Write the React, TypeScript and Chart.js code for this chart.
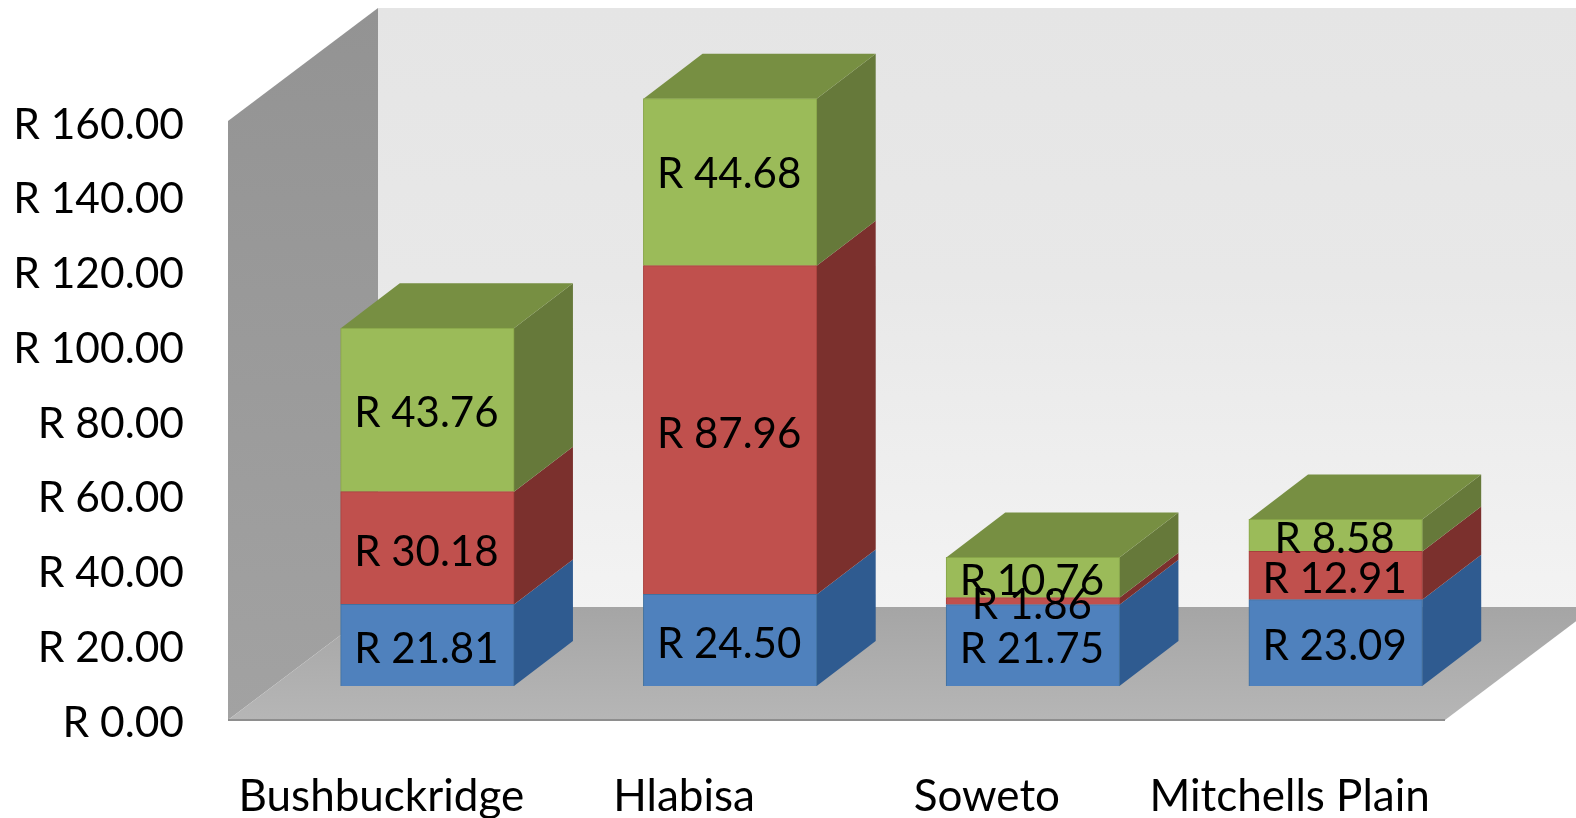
import React, { useEffect, useRef } from "react";
import { Chart, registerables } from "chart.js";

Chart.register(...registerables);

const categories = ["Bushbuckridge", "Hlabisa", "Soweto", "Mitchells Plain"];
const blueValues = [21.81, 24.5, 21.75, 23.09];
const redValues = [30.18, 87.96, 1.86, 12.91];
const greenValues = [43.76, 44.68, 10.76, 8.58];

const FONT = "Lato";
const Y_FONT_SIZE = 42.5;
const X_FONT_SIZE = 44;
const LABEL_FONT_SIZE = 42;
const SHIFT_X = 46;
const SHIFT_Y = -37;
const DEPTH_X = 59;
const DEPTH_Y = -45;
const WALL_X = 150;
const WALL_Y = -113;

const faces = [
  { front: "#4f81bd", border: "#41719f", side: "#2f5b90", top: "#3d6da8" },
  { front: "#c0504d", border: "#a8403d", side: "#7b302d", top: "#93403c" },
  { front: "#9bbb59", border: "#87a548", side: "#66793a", top: "#778f42" },
];

const poly = (ctx: CanvasRenderingContext2D, pts: number[][], fill: string | CanvasGradient) => {
  ctx.beginPath();
  pts.forEach(([x, y], i) => (i ? ctx.lineTo(x, y) : ctx.moveTo(x, y)));
  ctx.closePath();
  ctx.fillStyle = fill;
  ctx.fill();
};

const bars3d = {
  id: "bars3d",
  beforeDatasetsDraw(chart: any) {
    const { ctx, chartArea: a, width } = chart;
    const L = a.left - 2;
    const B = a.bottom - 3;
    const T = a.top - 4;
    const R = a.right + 4;
    ctx.save();
    const wall = ctx.createLinearGradient(0, T + WALL_Y, 0, B + WALL_Y);
    wall.addColorStop(0, "#e5e5e5");
    wall.addColorStop(0.45, "#e8e8e8");
    wall.addColorStop(1, "#f3f3f3");
    poly(ctx, [[L + WALL_X, T + WALL_Y], [width, T + WALL_Y], [width, B + WALL_Y], [L + WALL_X, B + WALL_Y]], wall);
    const side = ctx.createLinearGradient(0, T + WALL_Y, 0, B);
    side.addColorStop(0, "#939393");
    side.addColorStop(1, "#a2a2a2");
    poly(ctx, [[L, T], [L + WALL_X, T + WALL_Y], [L + WALL_X, B + WALL_Y], [L, B]], side);
    const floor = ctx.createLinearGradient(0, B + WALL_Y, 0, B);
    floor.addColorStop(0, "#a5a5a5");
    floor.addColorStop(1, "#b6b6b6");
    poly(ctx, [[L, B], [L + WALL_X, B + WALL_Y], [R + WALL_X, B + WALL_Y], [R, B]], floor);
    ctx.strokeStyle = "#8e8e8e";
    ctx.lineWidth = 2;
    ctx.beginPath();
    ctx.moveTo(L, B);
    ctx.lineTo(R, B);
    ctx.stroke();
    ctx.restore();

    ctx.save();
    ctx.translate(SHIFT_X, SHIFT_Y);
    chart.data.datasets.forEach((_: any, d: number) => {
      chart.getDatasetMeta(d).data.forEach((bar: any) => {
        const right = bar.x + bar.width / 2;
        const left = bar.x - bar.width / 2;
        poly(ctx, [[right, bar.base], [right + DEPTH_X, bar.base + DEPTH_Y], [right + DEPTH_X, bar.y + DEPTH_Y], [right, bar.y]], faces[d].side);
        if (d === chart.data.datasets.length - 1) {
          poly(ctx, [[left, bar.y], [left + DEPTH_X, bar.y + DEPTH_Y], [right + DEPTH_X, bar.y + DEPTH_Y], [right, bar.y]], faces[d].top);
        }
      });
    });
  },
  afterDatasetsDraw(chart: any) {
    const { ctx } = chart;
    ctx.fillStyle = "#000000";
    ctx.font = `${LABEL_FONT_SIZE}px ${FONT}`;
    ctx.textAlign = "center";
    ctx.textBaseline = "middle";
    chart.data.datasets.forEach((ds: any, d: number) => {
      chart.getDatasetMeta(d).data.forEach((bar: any, i: number) => {
        // the top Hlabisa label sits above the middle of its segment in the reference
        const nudge = d === 2 && i === 1 ? -12 : 0;
        ctx.fillText(`R ${ds.data[i].toFixed(2)}`, bar.x - 1, (bar.y + bar.base) / 2 + 4 + nudge);
      });
    });
    ctx.restore();
  },
};

export default function App() {
  const ref = useRef<HTMLCanvasElement>(null);
  useEffect(() => {
    const series = [blueValues, redValues, greenValues];
    const chart = new Chart(ref.current!, {
      type: "bar",
      data: {
        labels: categories,
        datasets: series.map((data, i) => ({
          data,
          backgroundColor: faces[i].front,
          borderColor: faces[i].border,
          borderWidth: 1,
          inflateAmount: 0.5,
          barPercentage: 0.572,
          categoryPercentage: 1,
          clip: false,
        })),
      },
      options: {
        animation: false,
        responsive: false,
        layout: { padding: { top: 125, right: 135, left: 0, bottom: 0 } },
        plugins: { legend: { display: false }, tooltip: { enabled: false } },
        scales: {
          x: {
            stacked: true,
            grid: { display: false, drawTicks: false },
            border: { display: false },
            afterFit: (s: any) => { s.height = 95; },
            ticks: { color: "#000", font: { family: FONT, size: X_FONT_SIZE }, padding: 47, maxRotation: 0 },
          },
          y: {
            stacked: true,
            min: 0,
            max: 160,
            grid: { display: false, drawTicks: false },
            border: { display: false },
            afterFit: (s: any) => { s.width = 230; },
            ticks: {
              stepSize: 20,
              color: "#000",
              padding: 46,
              font: { family: FONT, size: Y_FONT_SIZE },
              callback: (v: any) => `R ${Number(v).toFixed(2)}`,
            },
          },
        },
      },
      plugins: [bars3d],
    } as any);
    return () => chart.destroy();
  }, []);
  return (
    <div style={{ position: "fixed", left: 0, top: 0, width: 1576, height: 818, background: "#fff" }}>
      <canvas ref={ref} width={1576} height={818} style={{ display: "block" }} />
    </div>
  );
}
